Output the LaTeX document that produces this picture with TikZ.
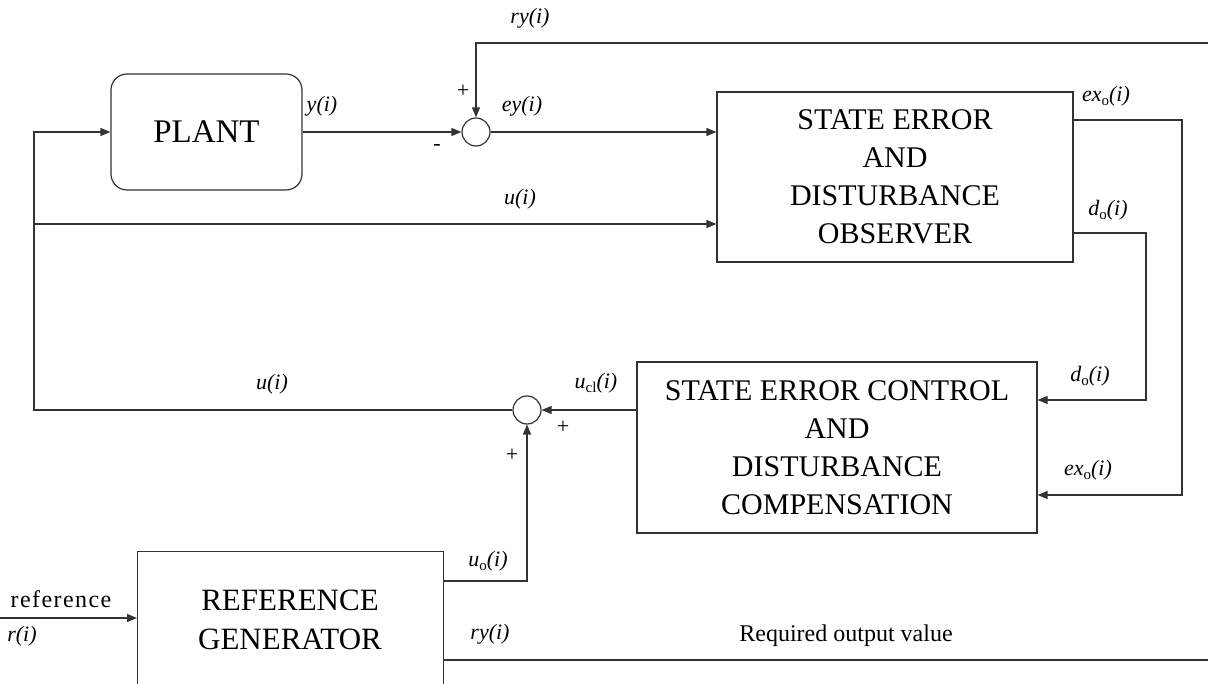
\documentclass[tikz,border=0pt]{standalone}
\usepackage{fontspec}
\setmainfont{Liberation Serif}
\usetikzlibrary{arrows.meta}
\definecolor{ln}{HTML}{333333}
\tikzset{
  blk/.style={draw=ln, line width=1.2pt, fill=white, inner sep=0pt, align=center,
     font=\fontsize{30}{38}\selectfont},
  sumnode/.style={draw=ln, line width=1.2pt, circle, minimum size=28pt, inner sep=0pt},
  arr/.style={-{Triangle[length=10pt,width=8pt]}},
  wire/.style={draw=ln, line width=1.2pt},
  lbl/.style={inner sep=0pt, font=\fontsize{22}{24}\selectfont\itshape},
  sgn/.style={inner sep=0pt, font=\fontsize{22}{24}\selectfont},
  txt/.style={inner sep=0pt, font=\fontsize{24}{26}\selectfont},
}
\newcommand{\sbo}[1]{\raisebox{-0.45ex}{\upshape\fontsize{15}{15}\selectfont #1}}
\begin{document}
\begin{tikzpicture}[x=1pt,y=-1pt]
\useasboundingbox (0,0) rectangle (1208,684);
% blocks
\node[blk, rounded corners=16pt, minimum width=191pt, minimum height=116pt, font=\fontsize{33}{38}\selectfont] (plant) at (206.5,132) {PLANT};
\node[blk, minimum width=356pt, minimum height=170pt] (obs) at (895,177) {STATE ERROR\\AND\\DISTURBANCE\\OBSERVER};
\node[blk, minimum width=400pt, minimum height=171pt] (ctrl) at (837,447.5) {STATE ERROR CONTROL\\AND\\DISTURBANCE\\COMPENSATION};
\node[blk, minimum width=306pt, minimum height=180pt, anchor=north west] (rg) at (137,551) {};
\node[inner sep=0pt, align=center, font=\fontsize{31}{39}\selectfont] (rgtxt) at (290,620) {REFERENCE\\GENERATOR};
\node[sumnode] (sum1) at (476,132) {};
\node[sumnode] (sum2) at (527,410) {};
% coordinates
\coordinate (ryT) at (1208,43);
\coordinate (uT) at (34,224);
\coordinate (cL) at (34,410);
\coordinate (exR) at (1182,120);
\coordinate (exB) at (1182,495);
\coordinate (dR) at (1146,233);
\coordinate (dB) at (1146,400);
\coordinate (uoR) at (527,581);
\coordinate (refL) at (0,618);
\coordinate (ryB) at (1208,660);
% connectors
\draw[wire, arr] (plant.east) -- (sum1.west);
\draw[wire, arr] (sum1.east) -- (sum1.east -| obs.west);
\draw[wire, arr] (ryT) -| (sum1.north);
\draw[wire, arr] (uT) -- (uT -| obs.west);
\draw[wire, arr] (sum2.west) -- (cL) |- (plant.west);
\draw[wire, arr] (ctrl.west |- sum2) -- (sum2.east);
\draw[wire, arr] (obs.east |- exR) -- (exR) -- (exB) -- (exB -| ctrl.east);
\draw[wire, arr] (obs.east |- dR) -- (dR) -- (dB) -- (dB -| ctrl.east);
\draw[wire, arr] (rg.east |- uoR) -- (uoR) -- (sum2.south);
\draw[wire, arr] (refL) -- (refL -| rg.west);
\draw[wire] (rg.east |- ryB) -- (ryB);
% labels
\node[lbl] (l_ryT) at (530,18) {ry(i)};
\node[lbl] (l_y) at (322,106) {y(i)};
\node[lbl] (l_ey) at (522,106) {ey(i)};
\node[sgn] (s_p1) at (463,91) {+};
\node[sgn] (s_m1) at (437,148) {-};
\node[lbl] (l_uT) at (520,199) {u(i)};
\node[lbl] (l_exT) at (1106,96) {ex\sbo{o}(i)};
\node[lbl] (l_dT) at (1108,210) {d\sbo{o}(i)};
\node[lbl] (l_dB) at (1090,376) {d\sbo{o}(i)};
\node[lbl] (l_exB) at (1088,470) {ex\sbo{o}(i)};
\node[lbl] (l_uB) at (272,384) {u(i)};
\node[lbl] (l_ucl) at (596,383) {u\sbo{cl}(i)};
\node[sgn] (s_p2) at (563,427) {+};
\node[sgn] (s_p3) at (512,455) {+};
\node[lbl] (l_uo) at (488,561) {u\sbo{o}(i)};
\node[lbl] (l_ryB) at (490,634) {ry(i)};
\node[txt, font=\fontsize{24}{26}\selectfont\addfontfeature{LetterSpace=6}] (l_ref) at (61,599) {reference};
\node[lbl] (l_r) at (22,636) {r(i)};
\node[txt] (l_req) at (846,636) {Required output value};
\end{tikzpicture}
\end{document}
